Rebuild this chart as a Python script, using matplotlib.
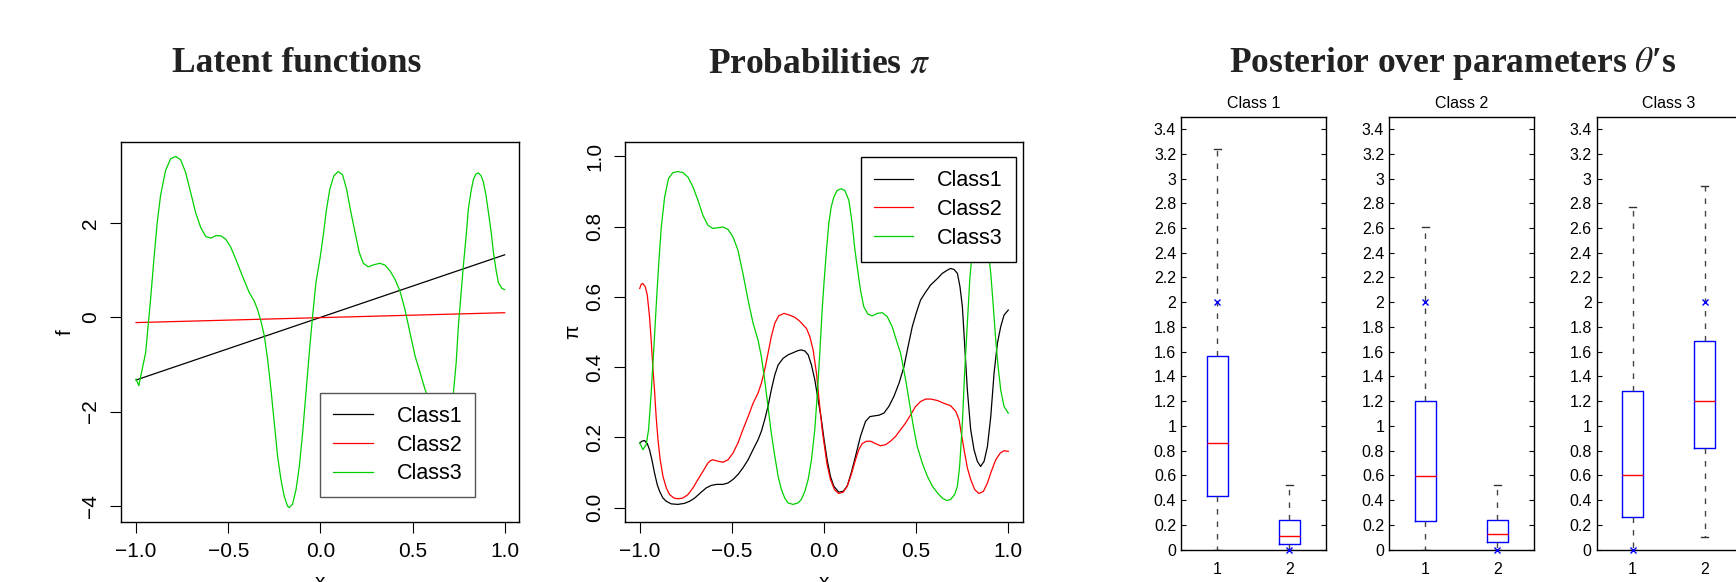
import numpy as np
import matplotlib
matplotlib.use("Agg")
import matplotlib.pyplot as plt
from matplotlib.ticker import FuncFormatter

plt.rcParams['font.family'] = ['Liberation Sans', 'DejaVu Sans']
plt.rcParams['mathtext.fontset'] = 'stix'

# ---------------- data ----------------
class_names = ["Class1", "Class2", "Class3"]

# latent functions
lin_x = [-1.0, 1.0]
f_class1 = [-1.33, 1.33]
f_class2 = [-0.11, 0.10]

f3_x = [-1.0, -0.985, -0.948, -0.921, -0.903, -0.885, -0.867, -0.840, -0.8125, -0.785,
        -0.758, -0.731, -0.704, -0.677, -0.649, -0.622, -0.595, -0.567, -0.540, -0.513,
        -0.486, -0.459, -0.423, -0.386, -0.359, -0.341, -0.323, -0.304, -0.286, -0.268,
        -0.250, -0.232, -0.214, -0.196, -0.178, -0.169, -0.151, -0.132, -0.114, -0.096,
        -0.078, -0.060, -0.042, -0.024, 0.0, 0.0154, 0.0335, 0.0516, 0.0734, 0.097,
        0.1205, 0.142, 0.164, 0.188, 0.211, 0.233, 0.260, 0.291, 0.323, 0.351,
        0.378, 0.405, 0.432, 0.459, 0.486, 0.514, 0.541, 0.568, 0.595, 0.622,
        0.640, 0.659, 0.671, 0.686, 0.704, 0.722, 0.737, 0.749, 0.764, 0.776,
        0.791, 0.803, 0.818, 0.831, 0.845, 0.858, 0.872, 0.885, 0.899, 0.912,
        0.927, 0.939, 0.954, 0.966, 0.985, 1.0]
f_class3 = [-1.31, -1.45, -0.75, 0.39, 1.24, 2.02, 2.59, 3.12, 3.37, 3.42,
            3.35, 3.08, 2.66, 2.23, 1.91, 1.72, 1.685, 1.735, 1.735, 1.66,
            1.49, 1.24, 0.88, 0.53, 0.35, 0.17, -0.07, -0.39, -0.89, -1.53,
            -2.24, -2.95, -3.44, -3.80, -4.01, -4.04, -3.97, -3.66, -3.16, -2.45,
            -1.60, -0.75, 0.03, 0.74, 1.30, 1.73, 2.30, 2.73, 3.01, 3.10,
            3.03, 2.73, 2.27, 1.81, 1.38, 1.15, 1.075, 1.12, 1.15, 1.11,
            0.99, 0.81, 0.56, 0.17, -0.32, -0.82, -1.17, -1.53, -1.81, -2.10,
            -2.31, -2.49, -2.54, -2.49, -2.17, -1.60, -0.96, -0.18, 0.53, 1.10,
            1.73, 2.30, 2.69, 2.94, 3.05, 3.07, 3.01, 2.87, 2.59, 2.23,
            1.81, 1.38, 0.99, 0.74, 0.615, 0.59]

# probabilities
p1_x = [-1.0, -0.988, -0.974, -0.959, -0.947, -0.934, -0.920, -0.905, -0.892, -0.874,
        -0.856, -0.829, -0.793, -0.757, -0.729, -0.702, -0.666, -0.639, -0.612, -0.584,
        -0.548, -0.521, -0.494, -0.467, -0.440, -0.412, -0.385, -0.358, -0.340, -0.322,
        -0.304, -0.286, -0.267, -0.249, -0.222, -0.195, -0.168, -0.141, -0.123, -0.104,
        -0.086, -0.068, -0.050, -0.032, -0.014, 0.0, 0.017, 0.035, 0.053, 0.080,
        0.104, 0.126, 0.148, 0.171, 0.198, 0.225, 0.249, 0.271, 0.298, 0.325,
        0.352, 0.379, 0.407, 0.434, 0.456, 0.479, 0.503, 0.524, 0.552, 0.579,
        0.615, 0.642, 0.669, 0.687, 0.706, 0.724, 0.738, 0.751, 0.764, 0.778,
        0.796, 0.814, 0.832, 0.850, 0.869, 0.887, 0.905, 0.923, 0.941, 0.959,
        0.977, 1.0]
p_class1 = [0.184, 0.189, 0.191, 0.182, 0.165, 0.136, 0.099, 0.065, 0.046, 0.027,
            0.018, 0.0105, 0.009, 0.012, 0.018, 0.027, 0.044, 0.056, 0.063, 0.066,
            0.066, 0.070, 0.080, 0.094, 0.113, 0.136, 0.165, 0.193, 0.217, 0.250,
            0.288, 0.335, 0.378, 0.406, 0.425, 0.435, 0.441, 0.447, 0.449, 0.446,
            0.435, 0.406, 0.364, 0.307, 0.250, 0.195, 0.136, 0.089, 0.061, 0.044,
            0.046, 0.061, 0.099, 0.146, 0.203, 0.245, 0.259, 0.261, 0.263, 0.269,
            0.288, 0.316, 0.354, 0.401, 0.458, 0.515, 0.558, 0.591, 0.614, 0.634,
            0.652, 0.667, 0.676, 0.681, 0.678, 0.667, 0.629, 0.572, 0.458, 0.335,
            0.222, 0.165, 0.132, 0.117, 0.132, 0.174, 0.259, 0.383, 0.468, 0.515,
            0.548, 0.5625]

p2_x = [-1.0, -0.992, -0.983, -0.970, -0.959, -0.947, -0.938, -0.929, -0.920, -0.911,
        -0.901, -0.889, -0.874, -0.856, -0.838, -0.814, -0.793, -0.766, -0.738, -0.711,
        -0.684, -0.657, -0.630, -0.615, -0.603, -0.575, -0.548, -0.521, -0.494, -0.467,
        -0.440, -0.412, -0.385, -0.358, -0.340, -0.322, -0.304, -0.286, -0.267, -0.246,
        -0.217, -0.186, -0.159, -0.132, -0.095, -0.077, -0.059, -0.041, -0.023, -0.010,
        0.0, 0.017, 0.035, 0.057, 0.080, 0.104, 0.126, 0.148, 0.171, 0.189,
        0.207, 0.231, 0.253, 0.280, 0.307, 0.334, 0.361, 0.389, 0.416, 0.443,
        0.470, 0.497, 0.524, 0.552, 0.579, 0.615, 0.651, 0.687, 0.715, 0.733,
        0.745, 0.760, 0.778, 0.796, 0.818, 0.841, 0.865, 0.887, 0.908, 0.932,
        0.956, 0.977, 1.0]
p_class2 = [0.624, 0.636, 0.638, 0.629, 0.605, 0.544, 0.477, 0.401, 0.335, 0.259,
            0.193, 0.136, 0.089, 0.056, 0.037, 0.027, 0.025, 0.027, 0.037, 0.056,
            0.080, 0.103, 0.127, 0.134, 0.136, 0.132, 0.129, 0.136, 0.155, 0.184,
            0.222, 0.259, 0.297, 0.326, 0.354, 0.392, 0.439, 0.487, 0.525, 0.546,
            0.553, 0.548, 0.542, 0.531, 0.510, 0.487, 0.449, 0.383, 0.288, 0.222,
            0.184, 0.122, 0.080, 0.051, 0.040, 0.044, 0.061, 0.094, 0.136, 0.165,
            0.182, 0.189, 0.189, 0.182, 0.176, 0.179, 0.189, 0.203, 0.222, 0.241,
            0.264, 0.288, 0.302, 0.309, 0.309, 0.305, 0.297, 0.290, 0.274, 0.250,
            0.212, 0.165, 0.113, 0.080, 0.051, 0.040, 0.046, 0.070, 0.103, 0.136,
            0.155, 0.162, 0.160]

p3_x = [-1.0, -0.983, -0.965, -0.952, -0.938, -0.923, -0.911, -0.898, -0.883, -0.865,
        -0.844, -0.820, -0.793, -0.766, -0.738, -0.711, -0.684, -0.657, -0.630, -0.603,
        -0.575, -0.548, -0.521, -0.494, -0.467, -0.440, -0.412, -0.385, -0.358, -0.340,
        -0.322, -0.304, -0.286, -0.267, -0.249, -0.231, -0.213, -0.195, -0.168, -0.141,
        -0.123, -0.104, -0.086, -0.068, -0.050, -0.036, -0.023, -0.010, 0.0, 0.0134,
        0.026, 0.039, 0.053, 0.071, 0.093, 0.113, 0.135, 0.153, 0.166, 0.180,
        0.198, 0.216, 0.238, 0.262, 0.289, 0.316, 0.343, 0.370, 0.398, 0.416,
        0.443, 0.461, 0.485, 0.506, 0.533, 0.561, 0.588, 0.615, 0.642, 0.666,
        0.687, 0.709, 0.724, 0.736, 0.751, 0.763, 0.778, 0.791, 0.805, 0.818,
        0.832, 0.850, 0.865, 0.878, 0.890, 0.905, 0.919, 0.932, 0.945, 0.959,
        0.977, 1.0]
p_class3 = [0.184, 0.165, 0.179, 0.222, 0.326, 0.458, 0.572, 0.686, 0.799, 0.884,
            0.937, 0.954, 0.957, 0.954, 0.941, 0.913, 0.875, 0.832, 0.804, 0.795,
            0.797, 0.799, 0.792, 0.771, 0.733, 0.667, 0.591, 0.525, 0.477, 0.430,
            0.364, 0.288, 0.212, 0.146, 0.089, 0.051, 0.027, 0.013, 0.009, 0.013,
            0.023, 0.046, 0.080, 0.136, 0.222, 0.326, 0.439, 0.5625, 0.64, 0.733,
            0.809, 0.856, 0.884, 0.903, 0.908, 0.903, 0.875, 0.809, 0.742, 0.686,
            0.619, 0.572, 0.551, 0.546, 0.553, 0.555, 0.544, 0.515, 0.468, 0.439,
            0.364, 0.307, 0.231, 0.174, 0.127, 0.089, 0.061, 0.042, 0.027, 0.020,
            0.023, 0.037, 0.061, 0.117, 0.241, 0.383, 0.525, 0.648, 0.733, 0.790,
            0.818, 0.832, 0.826, 0.799, 0.742, 0.667, 0.572, 0.477, 0.401, 0.335,
            0.288, 0.269]

# posterior boxplots: (whislo, q1, med, q3, whishi) for parameters 1 and 2
box_titles = ["Class 1", "Class 2", "Class 3"]
box_param_labels = ["1", "2"]
box_stats = [
    [(0.0, 0.435, 0.86, 1.565, 3.24), (0.0, 0.045, 0.11, 0.238, 0.518)],
    [(0.0, 0.233, 0.597, 1.203, 2.61), (0.0, 0.063, 0.128, 0.242, 0.52)],
    [(0.0, 0.265, 0.605, 1.278, 2.77), (0.105, 0.82, 1.20, 1.685, 2.94)],
]
true_theta = [[2.0, 0.0], [2.0, 0.0], [0.0, 2.0]]
box_yticks = [0, 0.2, 0.4, 0.6, 0.8, 1, 1.2, 1.4, 1.6, 1.8, 2, 2.2, 2.4, 2.6, 2.8, 3, 3.2, 3.4]

# ---------------- figure ----------------
W, H = 1736, 582
fig = plt.figure(figsize=(W / 100, H / 100), dpi=100)


def ax_px(l, t, r, b):
    return fig.add_axes([l / W, 1 - b / H, (r - l) / W, (b - t) / H])


GREEN = '#00d000'
LW = 0.9
minus_fmt = FuncFormatter(lambda v, p: f"{v:.1f}".replace('-', '\u2212'))
int_fmt = FuncFormatter(lambda v, p: f"{v:.0f}".replace('-', '\u2212'))


def style_r_axes(ax):
    for s in ax.spines.values():
        s.set_linewidth(1.0)
    ax.tick_params(direction='out', length=8, width=0.8, pad=7, labelsize=15)
    ax.tick_params(axis='y', labelrotation=90)
    for lbl in ax.get_yticklabels():
        lbl.set_va('center')
    ax.set_xticks([-1.0, -0.5, 0.0, 0.5, 1.0])
    ax.xaxis.set_major_formatter(minus_fmt)


leg_kw = dict(loc='upper left', borderaxespad=0, fontsize=15.5, handlelength=1.85,
              handletextpad=1.1, borderpad=0.6, labelspacing=0.36, fancybox=False,
              framealpha=1)

# Panel 1: latent functions
ax1 = ax_px(121.3, 142.4, 519.4, 521.6)
ax1.plot(lin_x, f_class1, color='black', lw=LW, label=class_names[0])
ax1.plot(lin_x, f_class2, color='red', lw=LW, label=class_names[1])
ax1.plot(f3_x, f_class3, color=GREEN, lw=LW, label=class_names[2])
ax1.margins(x=0.04, y=0.04)
ax1.set_yticks([-4, -2, 0, 2])
ax1.yaxis.set_major_formatter(int_fmt)
style_r_axes(ax1)
ax1.set_ylabel('f', fontsize=15)
ax1.yaxis.set_label_coords(-0.118, 0.5)
ax1.set_xlabel('x', fontsize=15)
ax1.xaxis.set_label_coords(0.5, -0.135)
leg1 = ax1.legend(bbox_to_anchor=(0.5, 0.339), edgecolor='#555555', **leg_kw)
leg1.get_frame().set_linewidth(1.0)

# Panel 2: probabilities
ax2 = ax_px(625.0, 142.4, 1023.0, 521.6)
ax2.plot(p1_x, p_class1, color='black', lw=LW, label=class_names[0])
ax2.plot(p2_x, p_class2, color='red', lw=LW, label=class_names[1])
ax2.plot(p3_x, p_class3, color=GREEN, lw=LW, label=class_names[2])
ax2.set_xlim(-1.08, 1.08)
ax2.set_ylim(-0.04, 1.04)
ax2.set_yticks([0.0, 0.2, 0.4, 0.6, 0.8, 1.0])
ax2.yaxis.set_major_formatter(minus_fmt)
style_r_axes(ax2)
ax2.set_ylabel('\u03c0', fontsize=15)
ax2.yaxis.set_label_coords(-0.107, 0.5)
ax2.set_xlabel('x', fontsize=15)
ax2.xaxis.set_label_coords(0.5, -0.135)
leg2 = ax2.legend(bbox_to_anchor=(0.592, 0.961), edgecolor='black', **leg_kw)
leg2.get_frame().set_linewidth(1.0)

# Panels 3-5: boxplots
box_lefts = [1181.0, 1389.0, 1596.5]
for i, left in enumerate(box_lefts):
    ax = ax_px(left, 116.7, left + 144.5, 549.5)
    stats = []
    for (lo, q1, med, q3, hi) in box_stats[i]:
        stats.append(dict(whislo=lo, q1=q1, med=med, q3=q3, whishi=hi, fliers=[]))
    ax.bxp(stats, positions=[1, 2], widths=0.29, capwidths=0.1, showfliers=False,
           manage_ticks=False,
           boxprops=dict(color='blue', lw=1.0),
           medianprops=dict(color='red', lw=1.0),
           whiskerprops=dict(color='#444444', lw=1.0, linestyle=(0, (4.0, 5.0))),
           capprops=dict(color='#333333', lw=1.0))
    ax.plot([1, 2], true_theta[i], linestyle='none', marker='x', color='blue',
            ms=4.5, mew=1.0, clip_on=False, zorder=5)
    ax.set_xlim(0.5, 2.5)
    ax.set_ylim(0, 3.5)
    ax.set_yticks(box_yticks)
    ax.set_yticklabels([f"{v:g}" for v in box_yticks])
    ax.set_xticks([1, 2])
    ax.set_xticklabels(box_param_labels)
    ax.tick_params(axis='y', direction='in', length=3.6, width=0.8, left=True,
                   right=True, labelsize=11.5, pad=3.5)
    ax.tick_params(axis='x', length=0, labelsize=11.5, pad=8.8)
    for s in ax.spines.values():
        s.set_linewidth(1.0)
    ax.set_title(box_titles[i], fontsize=11.5, pad=6)

# Main titles
title_kw = dict(fontfamily=['Liberation Serif', 'DejaVu Serif'], fontweight='bold',
                fontsize=25.5, ha='center', va='baseline', color='#222222')
fig.text(296.7 / W, 1 - 72.3 / H, 'Latent functions', **title_kw)
fig.text(819.0 / W, 1 - 72.3 / H, r'Probabilities $\pi$', **title_kw)
fig.text(1453.0 / W, 1 - 72.3 / H, 'Posterior over parameters $\\theta$\u2032s', **title_kw)

fig.savefig('out.png', dpi=100)
